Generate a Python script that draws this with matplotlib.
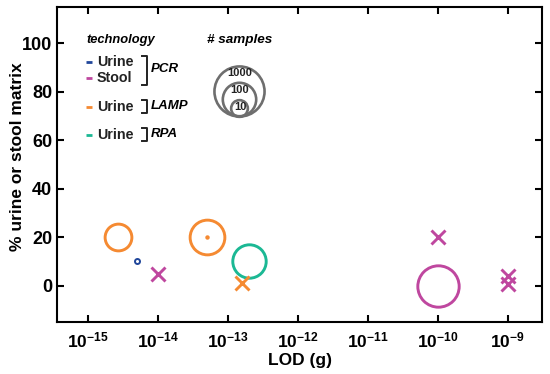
import numpy as np
import matplotlib
matplotlib.use("Agg")
import matplotlib.pyplot as plt
from matplotlib.ticker import FixedLocator, NullLocator, FuncFormatter

plt.rcParams['font.family'] = ['Liberation Sans', 'DejaVu Sans']
plt.rcParams['mathtext.fontset'] = 'custom'
plt.rcParams['mathtext.rm'] = 'Liberation Sans:bold'
plt.rcParams['mathtext.bf'] = 'Liberation Sans:bold'
plt.rcParams['mathtext.it'] = 'Liberation Sans:bold:italic'

# ---------------- data ----------------
# PCR urine (blue) circles
pcr_urine_x = [5e-15]
pcr_urine_y = [10]
pcr_urine_n = [2]
# PCR stool (magenta) circles and crosses
pcr_stool_circ_x = [1e-10]
pcr_stool_circ_y = [0]
pcr_stool_circ_n = [300]
pcr_stool_x_x = [1e-14, 1e-10, 1e-9, 1e-9]
pcr_stool_x_y = [5, 20, 4, 0.5]
# LAMP urine (orange)
lamp_circ_x = [2.7e-15, 5e-14]
lamp_circ_y = [20, 20]
lamp_circ_n = [40, 120]
lamp_dot_x = [5e-14]
lamp_dot_y = [20]
lamp_x_x = [1.6e-13]
lamp_x_y = [1]
# RPA urine (green)
rpa_circ_x = [2e-13]
rpa_circ_y = [10]
rpa_circ_n = [100]

legend_samples = [1000, 100, 10]
xtick_exps = [-15, -14, -13, -12, -11, -10, -9]
ytick_vals = [0, 20, 40, 60, 80, 100]

BLUE = '#21479b'
MAGENTA = '#bf479f'
ORANGE = '#f58a32'
GREEN = '#1bb894'
GREY = '#6e6e6e'

W, H = 550, 374
fig = plt.figure(figsize=(W / 100, H / 100), dpi=100)
ax = fig.add_axes([57 / W, 1 - 322 / H, (542 - 57) / W, (322 - 7) / H])


def msize(n):
    # marker diameter (points) scaled with log10 of sample count
    return 16.7 * np.log10(n) * 72 / 100


def circles(xs, ys, ns, color, mew=2.1):
    for x, y, n in zip(xs, ys, ns):
        ax.plot([x], [y], 'o', ms=msize(n), mfc='none', mec=color, mew=mew,
                clip_on=False)


circles(pcr_urine_x, pcr_urine_y, pcr_urine_n, BLUE, mew=1.4)
circles(pcr_stool_circ_x, pcr_stool_circ_y, pcr_stool_circ_n, MAGENTA)
circles(lamp_circ_x, lamp_circ_y, lamp_circ_n, ORANGE)
circles(rpa_circ_x, rpa_circ_y, rpa_circ_n, GREEN)
ax.plot(lamp_dot_x, lamp_dot_y, 'o', ms=3.2, color=ORANGE, mec='none')
ax.plot(pcr_stool_x_x, pcr_stool_x_y, 'x', ms=10, mew=2.1, color=MAGENTA, ls='none')
ax.plot(lamp_x_x, lamp_x_y, 'x', ms=10, mew=2.1, color=ORANGE, ls='none')

ax.set_xscale('log')
ax.set_xlim(10 ** -15.44, 10 ** -8.51)
ax.set_ylim(-15, 115)
ax.xaxis.set_major_locator(FixedLocator([10.0 ** e for e in xtick_exps]))
ax.xaxis.set_minor_locator(NullLocator())
ax.xaxis.set_major_formatter(FuncFormatter(
    lambda v, p: r'$\mathbf{10^{%d}}$' % int(round(np.log10(v)))))
ax.set_yticks(ytick_vals)

for s in ax.spines.values():
    s.set_linewidth(1.5)
ax.tick_params(direction='in', length=5, width=1.5, top=True, right=True,
               labelsize=12.5)
for lab in ax.get_yticklabels():
    lab.set_fontweight('bold')
    lab.set_fontsize(13)
ax.tick_params(axis='x', pad=6)

ax.set_xlabel('LOD (g)', fontsize=12.5, fontweight='bold', labelpad=2)
ax.set_ylabel('% urine or stool matrix', fontsize=12.5, fontweight='bold')
ax.yaxis.set_label_coords(-0.066, 0.524)


# ---------------- legend (pixel coordinates) ----------------
def P(x, y):
    return x / W, 1 - y / H


tf = fig.transFigure


def ftext(x, y, s, **kw):
    fx, fy = P(x, y)
    fig.text(fx, fy, s, va='center', **kw)


def fline(xs, ys, **kw):
    pts = [P(x, y) for x, y in zip(xs, ys)]
    fig.add_artist(plt.Line2D([p[0] for p in pts], [p[1] for p in pts],
                              transform=tf, **kw))


ftext(86, 40, 'technology', fontsize=9.3, fontweight='bold', style='italic')
rows = [(62, BLUE, 'Urine'), (78, MAGENTA, 'Stool'),
        (107, ORANGE, 'Urine'), (135, GREEN, 'Urine')]
for y, c, lab in rows:
    fline([86, 92], [y, y], color=c, lw=2, solid_capstyle='butt')
    ftext(97, y, lab, fontsize=10.3, fontweight='bold', color='#222222')

bk = dict(color='#222222', lw=1.4)
# PCR bracket
fline([142, 147, 147, 142], [56, 56, 85, 85], **bk)
ftext(151, 69, 'PCR', fontsize=9.5, fontweight='bold', style='italic')
# LAMP bracket
fline([142, 147, 147, 142], [100, 100, 113, 113], **bk)
ftext(151, 106, 'LAMP', fontsize=9.5, fontweight='bold', style='italic')
# RPA bracket
fline([142, 147, 147, 142], [128, 128, 141, 141], **bk)
ftext(151, 134, 'RPA', fontsize=9.5, fontweight='bold', style='italic')

ftext(207, 40, '# samples', fontsize=9.7, fontweight='bold', style='italic')
base = 116
for n in legend_samples:
    d_px = 16.7 * np.log10(n)
    cy = base - d_px / 2
    fx, fy = P(239, cy)
    fig.add_artist(plt.Line2D([fx], [fy], marker='o', ms=msize(n), mfc='none',
                              mec=GREY, mew=1.9, transform=tf))
    ty = base - d_px + 7.5
    fx, fy = P(240, ty)
    fig.text(fx, fy, str(n), ha='center', va='center', fontsize=8,
             fontweight='bold', color='#222222')

fig.savefig('out.png', dpi=100)
